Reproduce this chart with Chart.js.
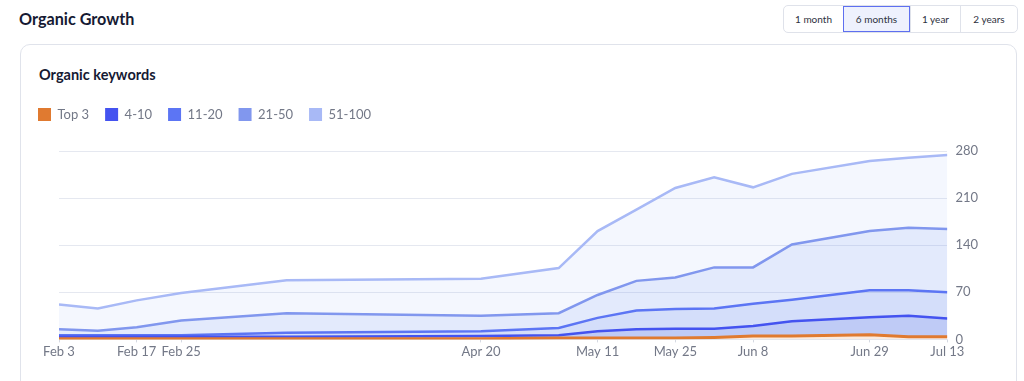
<!DOCTYPE html>
<html>
<head>
<meta charset="utf-8">
<script src="https://cdn.jsdelivr.net/npm/chart.js@4"></script>
<style>
  html, body { margin:0; padding:0; background:#fff; }
  body { width:1024px; height:381px; overflow:hidden; position:relative; font-family: Lato, "Open Sans", sans-serif; }
  #title { position:absolute; left:19px; top:8px; font-weight:700; font-size:16.2px; color:#161a33; line-height:22px; }
  #card { position:absolute; left:20px; top:44px; width:995px; height:400px; border:1px solid #e0e3eb; border-radius:10px; box-sizing:content-box; }
  #sub { position:absolute; left:39px; top:65px; font-weight:700; font-size:14.5px; color:#161a33; line-height:20px; }
  #btns { position:absolute; left:783px; top:5px; height:26px; width:233px; border:1px solid #dfe2ea; border-radius:5px; display:flex; overflow:hidden; }
  #btns div { font-size:10px; color:#2d3140; display:flex; align-items:center; justify-content:center; border-left:1px solid #dfe2ea; box-sizing:border-box; }
  #btns div:first-child { border-left:none; }
  #btns div.sel { background:#eef1fd; border:1px solid #5e6ff0; }
  #wrap { position:absolute; left:22px; top:90px; width:977px; height:291px; }
</style>
</head>
<body>
<div id="title">Organic Growth</div>
<div id="btns">
  <div style="width:59px">1 month</div>
  <div class="sel" style="width:67px">6 months</div>
  <div style="width:50px">1 year</div>
  <div style="width:57px">2 years</div>
</div>
<div id="card"></div>
<div id="sub">Organic keywords</div>
<div id="wrap"><canvas id="c"></canvas></div>
<script>
// ---- data ----
const dates = ['2023-02-03','2023-02-10','2023-02-17','2023-02-25','2023-03-16','2023-04-20','2023-05-04','2023-05-11',
               '2023-05-18','2023-05-25','2023-06-01','2023-06-08','2023-06-15','2023-06-29','2023-07-06','2023-07-13'];
const top3    = [1, 1, 1, 1, 1, 1, 2, 2, 2, 2, 3, 5, 5, 7, 4, 4];
const pos4_10 = [3, 3, 3, 3, 3, 4, 4, 10, 13, 14, 13, 15, 22, 26, 31, 27];
const pos11_20 = [2, 2, 2, 2, 6, 7, 11, 20, 28, 29, 30, 33, 32, 40, 38, 39];
const pos21_50 = [9, 7, 12, 22, 29, 23, 22, 34, 44, 47, 61, 54, 82, 88, 93, 94];
const pos51_100 = [37, 33, 40, 41, 49, 55, 67, 95, 106, 133, 134, 119, 105, 104, 104, 110];
const seriesNames = ['Top 3', '4-10', '11-20', '21-50', '51-100'];
const tickDates = ['2023-02-03','2023-02-17','2023-02-25','2023-04-20','2023-05-11','2023-05-25','2023-06-08','2023-06-29','2023-07-13'];
const yTicks = [0, 70, 140, 210, 280];
const monthNames = ['Jan','Feb','Mar','Apr','May','Jun','Jul','Aug','Sep','Oct','Nov','Dec'];

// ---- helpers ----
const DAY = 86400000;
const t0 = Date.parse(dates[0]);
const toDay = d => Math.round((Date.parse(d) - t0) / DAY);
const dayLabel = {};
tickDates.forEach(d => { const dt = new Date(d + 'T00:00:00Z'); dayLabel[toDay(d)] = monthNames[dt.getUTCMonth()] + ' ' + dt.getUTCDate(); });
const pts = arr => arr.map((v, i) => ({x: toDay(dates[i]), y: v}));

const lineColors = ['#e07a30', '#4453f0', '#5c75f4', '#8197ee', '#a8b9f6'];
const fillColors = ['rgba(224,122,48,0.15)', 'rgba(42,82,225,0.30)', 'rgba(83,123,235,0.25)', 'rgba(115,150,240,0.20)', 'rgba(145,175,245,0.10)'];
const values = [top3, pos4_10, pos11_20, pos21_50, pos51_100];

const datasets = values.map((v, i) => ({
  label: seriesNames[i],
  data: pts(v),
  xAxisID: 'x',
  yAxisID: 'y',
  borderColor: lineColors[i],
  backgroundColor: fillColors[i],
  borderWidth: i === 0 ? 3 : 2.5,
  pointRadius: 0,
  tension: 0,
  fill: i === 0 ? 'origin' : '-1'
}));

const legendGap = {
  id: 'legendGap',
  beforeLayout(chart) {
    const l = chart.legend;
    if (l && !l._gapPatched) {
      const f = l.fit;
      l.fit = function() { f.call(this); this.height += 20; };
      l._gapPatched = true;
    }
  }
};

const axisColor = '#737887';
new Chart(document.getElementById('c'), {
  type: 'line',
  data: { datasets },
  plugins: [legendGap],
  options: {
    responsive: true,
    maintainAspectRatio: false,
    animation: false,
    layout: { padding: { top: 2, left: 0, right: 13, bottom: 19 } },
    plugins: {
      tooltip: { enabled: false },
      legend: {
        position: 'top',
        align: 'start',
        labels: {
          boxWidth: 13, boxHeight: 13, padding: 16,
          color: axisColor,
          font: { family: 'Lato', size: 13 },
          generateLabels(chart) {
            return chart.data.datasets.map((ds, i) => ({
              text: ds.label, fillStyle: ds.borderColor, strokeStyle: ds.borderColor,
              lineWidth: 0, hidden: false, datasetIndex: i, fontColor: axisColor
            }));
          }
        }
      }
    },
    scales: {
      x: {
        type: 'linear',
        min: toDay(dates[0]),
        max: toDay(dates[dates.length - 1]),
        afterBuildTicks(scale) { scale.ticks = tickDates.map(d => ({ value: toDay(d) })); },
        ticks: {
          autoSkip: false, maxRotation: 0, padding: 2,
          color: axisColor, font: { family: 'Lato', size: 13 },
          callback: v => dayLabel[v] || ''
        },
        grid: { display: true, drawOnChartArea: false, drawTicks: true, tickLength: 3, color: '#d5d9e2' },
        border: { display: true, color: '#e3e7ef' }
      },
      y: {
        position: 'right',
        stacked: true,
        min: 0, max: 280,
        afterBuildTicks(scale) { scale.ticks = yTicks.map(v => ({ value: v })); },
        ticks: { padding: 8, color: axisColor, font: { family: 'Lato', size: 13 } },
        grid: { color: '#e5e8f0', drawTicks: false },
        border: { display: false }
      },
      yL: {
        position: 'left', display: true,
        grid: { display: false }, border: { display: false }, ticks: { display: false },
        afterFit(s) { s.width = 37; }
      }
    }
  }
});
</script>
</body>
</html>
